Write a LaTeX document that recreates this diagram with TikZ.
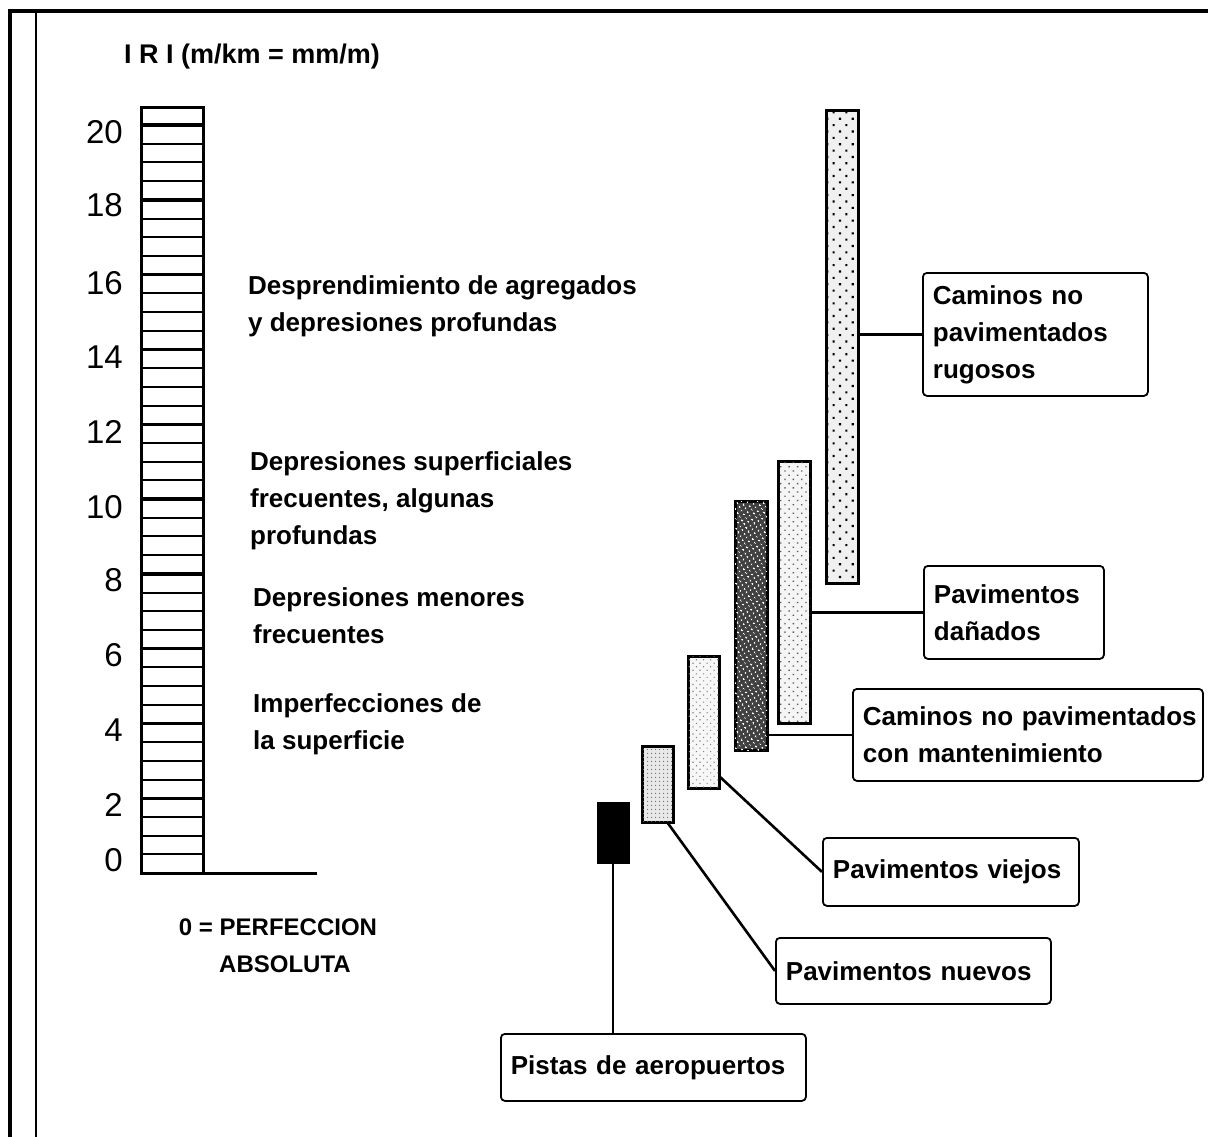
\documentclass[tikz,border=0pt]{standalone}
\usepackage{fontspec}
\setmainfont{Liberation Sans}
\usetikzlibrary{patterns.meta}

\begin{document}
\begin{tikzpicture}[
  x=1pt, y=-1pt,
  txt/.style={font=\fontsize{26}{37}\selectfont\bfseries, align=left, inner sep=0pt, anchor=north west},
  tick/.style={font=\fontsize{33}{33}\selectfont, inner sep=0pt, anchor=east},
  bar/.style={draw, line width=3pt, inner sep=0pt, outer sep=0pt, anchor=north west},
  box/.style={draw, line width=1.8pt, rounded corners=4pt, inner xsep=10pt, inner ysep=0pt, anchor=north west, font=\fontsize{26}{37}\selectfont\bfseries, align=left},
  line/.style={line width=2.6pt}
]
\useasboundingbox (0,0) rectangle (1208,1137);
% frame
\draw[line width=3.5pt] (10,1137) -- (10,11) -- (1208,11);
\draw[line width=1.8pt] (36,11) -- (36,1137);

% IRI scale
\node[font=\fontsize{27}{27}\selectfont\bfseries] (title) at (252,57) {I R I (m/km = mm/m)};
\draw[line width=3pt] (141,108) rectangle (203,873);
\foreach \k in {1,...,40}
  \draw[line width=2pt] (141,873-18.7*\k) -- (203,873-18.7*\k);
\foreach \v in {2,4,...,20}
  \draw[line width=3.4pt] (141,873-37.4*\v) -- (203,873-37.4*\v);
\draw[line width=3pt] (203,873) -- (317,873);
\foreach \v/\y in {20/132,18/205,16/283,14/357,12/432,10/507,8/580,6/655,4/730,2/805,0/860}
  \node[tick] (t\v) at (123,\y) {\v};

\node[txt] (desc1) at (248,275) {Desprendimiento de agregados\\y depresiones profundas};
\node[txt] (desc2) at (250,451) {Depresiones superficiales\\frecuentes, algunas\\profundas};
\node[txt] (desc3) at (253,587) {Depresiones menores\\frecuentes};
\node[txt] (desc4) at (253,693) {Imperfecciones de\\la superficie};
\node[txt, anchor=north, align=center, font=\fontsize{24}{37}\selectfont\bfseries] (perf) at (278,919) {0 = PERFECCION\\\hspace*{14pt}ABSOLUTA};

% bars
\node[bar, fill=black, minimum width=30pt, minimum height=59pt] (pistasbar) at (598,803) {};
\node[bar, fill=gray!18, postaction={pattern={Dots[distance=4pt, radius=0.7pt]}, pattern color=gray!80!black},
  minimum width=31pt, minimum height=76pt] (nuevosbar) at (642,746) {};
\node[bar, fill=gray!6, postaction={pattern={Dots[distance=5pt, radius=0.8pt, angle=45]}, pattern color=gray},
  minimum width=31pt, minimum height=132pt] (viejosbar) at (688,656) {};
\node[bar, fill=black!75, postaction={pattern={Dots[distance=4pt, radius=1.1pt, angle=30]}, pattern color=white},
  minimum width=32pt, minimum height=249pt] (mantbar) at (735,501) {};
\node[bar, fill=gray!8, postaction={pattern={Dots[distance=6pt, radius=0.9pt, angle=45]}, pattern color=gray!70!black},
  minimum width=32pt, minimum height=262pt] (danadosbar) at (778,461) {};
\node[bar, fill=gray!12, postaction={pattern={Dots[distance=9pt, radius=1.5pt, angle=45]}, pattern color=black},
  minimum width=32pt, minimum height=472pt] (rugososbar) at (826,111) {};

% label boxes
\node[box, text width=285pt, minimum height=67pt] (pistas) at (500,1033) {Pistas de aeropuertos};
\node[box, text width=255pt, minimum height=66pt] (nuevos) at (775,937) {Pavimentos nuevos};
\node[box, text width=236pt, minimum height=68pt] (viejos) at (822,837) {Pavimentos viejos};
\node[box, text width=330pt, minimum height=92pt] (mant) at (852,688) {\mbox{Caminos no pavimentados}\\\mbox{con mantenimiento}};
\node[box, text width=160pt, minimum height=93pt] (danados) at (923,565) {Pavimentos\\dañados};
\node[box, text width=205pt, minimum height=123pt] (rugosos) at (922,272) {Caminos no\\pavimentados\\rugosos};

\draw[line] (pistasbar.south) -- (pistasbar.south |- pistas.north);
\draw[line] ([xshift=-6pt]nuevosbar.south east) -- (nuevos.west);
\draw[line] ([yshift=12pt]viejosbar.south east) -- (viejos.west);
\draw[line] (mant.west) -- (mant.west -| mantbar.east);
\draw[line] (danados.west) -- (danados.west -| danadosbar.east);
\draw[line] (rugosos.west) -- (rugosos.west -| rugososbar.east);
\end{tikzpicture}
\end{document}
